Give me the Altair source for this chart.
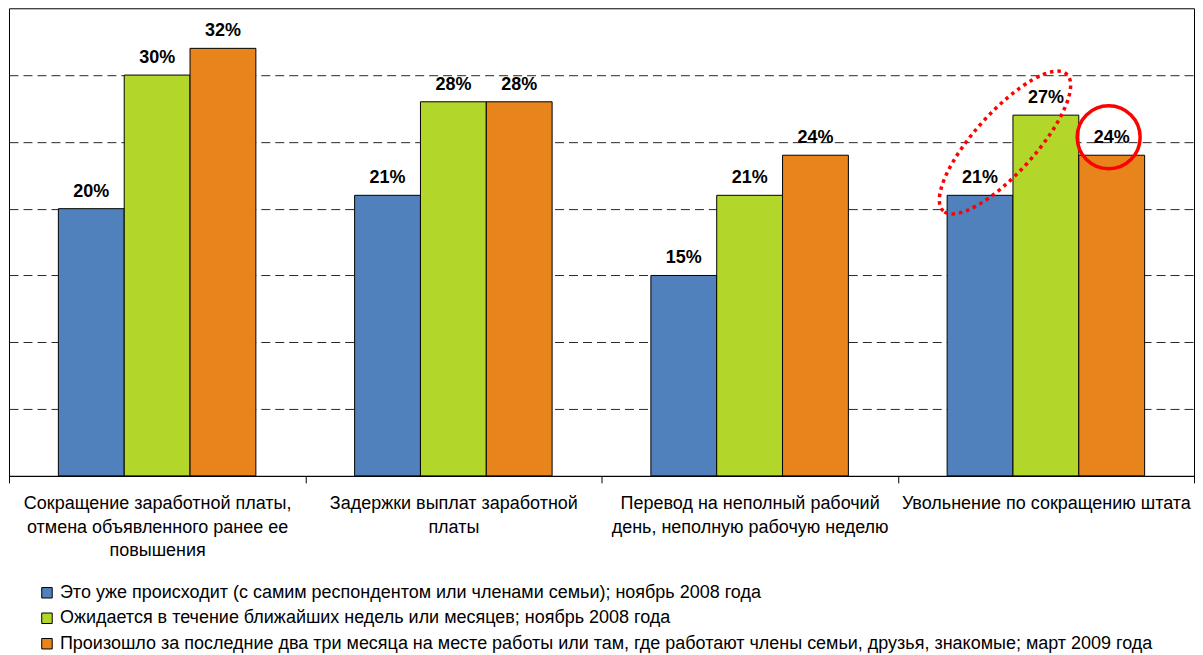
import altair as alt
import pandas as pd

categories = [
    "Сокращение заработной платы,\nотмена объявленного ранее ее\nповышения",
    "Задержки выплат заработной\nплаты",
    "Перевод на неполный рабочий\nдень, неполную рабочую неделю",
    "Увольнение по сокращению штата",
]
series = [
    "Это уже происходит (с самим респондентом или членами семьи); ноябрь 2008 года",
    "Ожидается в течение ближайших недель или месяцев; ноябрь 2008 года",
    "Произошло за последние два три месяца на месте работы или там, где работают члены семьи, друзья, знакомые; март 2009 года",
]
happening_nov2008 = [20, 21, 15, 21]
expected_nov2008 = [30, 28, 21, 27]
happened_mar2009 = [32, 28, 24, 24]
colors = ["#5181BD", "#B3D62B", "#E8841C"]

# annotation marks (category-index position, value position)
ann_kind = ["ellipse", "circle"]
ann_x = [3.362, 3.712]
ann_y = [24.95, 25.35]

rows = []
for s, vals in zip(series, [happening_nov2008, expected_nov2008, happened_mar2009]):
    for c, v in zip(categories, vals):
        rows.append({"category": c, "series": s, "value": v, "label": f"{v}%"})
df = pd.DataFrame(rows)
ann = pd.DataFrame({"kind": ann_kind, "x": ann_x, "y": ann_y})

FONT = "Liberation Sans"

x_enc = alt.X(
    "category:N",
    sort=categories,
    scale=alt.Scale(paddingInner=0, paddingOuter=0),
    axis=alt.Axis(
        title=None,
        labelExpr="split(datum.label, '\\n')",
        labelAngle=0,
        labelFont=FONT,
        labelFontSize=18,
        labelColor="black",
        labelLineHeight=23.5,
        labelPadding=12,
        labelBaseline="top",
        labelLimit=400,
        domainColor="black",
        tickColor="black",
        tickSize=7,
        tickBand="extent",
        grid=False,
    ),
)
y_enc = alt.Y(
    "value:Q",
    scale=alt.Scale(domain=[0, 35], nice=False),
    axis=alt.Axis(
        title=None,
        labels=False,
        ticks=False,
        domain=False,
        grid=True,
        values=[5, 10, 15, 20, 25, 30],
        gridColor="black",
        gridDash=[9, 5],
        gridWidth=1,
        gridOpacity=0.85,
    ),
)
xo = alt.XOffset("series:N", sort=series, scale=alt.Scale(paddingInner=0, paddingOuter=0.75))

bars = alt.Chart(df).mark_bar(stroke="black", strokeWidth=1).encode(
    x=x_enc,
    xOffset=xo,
    y=y_enc,
    color=alt.Color(
        "series:N",
        sort=series,
        scale=alt.Scale(domain=series, range=colors),
        legend=alt.Legend(
            title=None,
            orient="none",
            legendX=29,
            legendY=576,
            direction="vertical",
            symbolType="square",
            symbolSize=110,
            symbolStrokeColor="black",
            symbolStrokeWidth=1,
            symbolOpacity=1,
            labelFont=FONT,
            labelFontSize=18,
            labelColor="black",
            labelLimit=1200,
            labelOffset=4,
            rowPadding=7.5,
        ),
    ),
)
labels = alt.Chart(df).mark_text(
    font=FONT, fontSize=18, fontWeight="bold", color="black", dy=-12, baseline="alphabetic"
).encode(
    x=alt.X("category:N", sort=categories),
    xOffset=xo,
    y="value:Q",
    text="label:N",
)

base = alt.layer(bars, labels)

ax = alt.X("x:Q", scale=alt.Scale(domain=[0, 4], nice=False, zero=False), axis=None)
ay = alt.Y("y:Q")

ellipse = alt.Chart(ann).transform_filter("datum.kind == 'ellipse'").mark_point(
    shape="M -1 0 A 1 0.33 0 1 1 1 0 A 1 0.33 0 1 1 -1 0 Z",
    size=34000,
    angle=312,
    filled=False,
    stroke="#FF0000",
    strokeWidth=3.5,
    strokeDash=[3.5, 4],
    opacity=1,
).encode(x=ax, y=ay)

circle = alt.Chart(ann).transform_filter("datum.kind == 'circle'").mark_point(
    shape="circle",
    size=3969,
    filled=False,
    stroke="#FF0000",
    strokeWidth=3.5,
    opacity=1,
).encode(x=ax, y=ay)

chart = (
    alt.layer(base, ellipse, circle)
    .resolve_scale(x="independent")
    .properties(
        width=1186,
        height=468,
        padding={"left": 1, "top": 0, "right": 1, "bottom": 177},
        autosize=alt.AutoSizeParams(type="none"),
    )
    .configure_view(stroke="black", strokeWidth=1)
)

chart.save("out.html", embed_options={"renderer": "svg", "actions": False})
